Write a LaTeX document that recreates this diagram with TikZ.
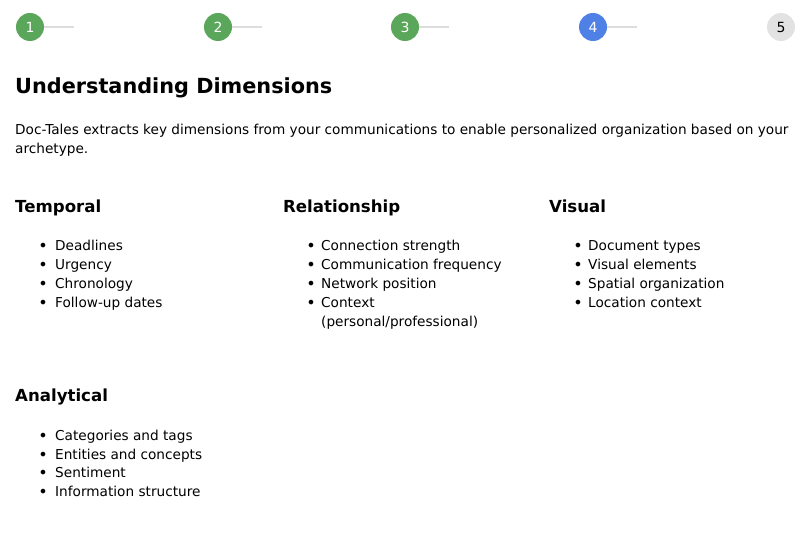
\documentclass[tikz,border=0pt]{standalone}
\usepackage{fontspec}
\setmainfont{DejaVu Sans}
\usepackage{tikz}
\usetikzlibrary{positioning}
\definecolor{donegreen}{HTML}{5AA65A}
\definecolor{activeblue}{HTML}{4F80E6}
\definecolor{todogray}{HTML}{E2E2E2}
\definecolor{linkgray}{HTML}{DDDDDD}

\begin{document}
\begin{tikzpicture}[x=1pt, y=-1pt,
    stepdot/.style={circle, minimum size=28pt, inner sep=0pt, font=\fontsize{14}{14}\selectfont},
    steplink/.style={draw=linkgray, line width=2pt},
    pagetitle/.style={anchor=base west, inner sep=0pt, font=\fontsize{20.8}{20.8}\selectfont\bfseries},
    dimhead/.style={anchor=base west, inner sep=0pt, font=\fontsize{16.6}{16.6}\selectfont\bfseries},
    bodytext/.style={anchor=base west, inner sep=0pt, font=\fontsize{13.65}{13.65}\selectfont},
    bulletmark/.style={anchor=base, inner sep=0pt, yshift=-1pt, font=\fontsize{16}{16}\selectfont}]
    \useasboundingbox (0,0) rectangle (806,533);

    % progress steps
    \node[stepdot, fill=donegreen, text=white] (s1) at (30,27) {1};
    \node[stepdot, fill=donegreen, text=white] (s2) at (218,27) {2};
    \node[stepdot, fill=donegreen, text=white] (s3) at (405,27) {3};
    \node[stepdot, fill=activeblue, text=white] (s4) at (593,27) {4};
    \node[stepdot, fill=todogray, text=black] (s5) at (781,27) {5};
    \coordinate (l1) at (74,27);
    \coordinate (l2) at (262,27);
    \coordinate (l3) at (449,27);
    \coordinate (l4) at (637,27);
    \draw[steplink] (s1) -- (l1);
    \draw[steplink] (s2) -- (l2);
    \draw[steplink] (s3) -- (l3);
    \draw[steplink] (s4) -- (l4);

    % title and intro
    \node[pagetitle] (title) at (15,93) {Understanding Dimensions};
    \node[bodytext] (intro1) at (15,134) {Doc-Tales extracts key dimensions from your communications to enable personalized organization based on your};
    \node[bodytext] (intro2) at (15,153) {archetype.};

    % temporal
    \node[dimhead] (temporal) at (15,212) {Temporal};
    \node[bulletmark] (tb1) at (43,250) {•};
    \node[bodytext] (t1) at (55,250) {Deadlines};
    \node[bulletmark] (tb2) at (43,269) {•};
    \node[bodytext] (t2) at (55,269) {Urgency};
    \node[bulletmark] (tb3) at (43,288) {•};
    \node[bodytext] (t3) at (55,288) {Chronology};
    \node[bulletmark] (tb4) at (43,307) {•};
    \node[bodytext] (t4) at (55,307) {Follow-up dates};

    % relationship
    \node[dimhead] (relationship) at (283,212) {Relationship};
    \node[bulletmark] (rb1) at (311,250) {•};
    \node[bodytext] (r1) at (321,250) {Connection strength};
    \node[bulletmark] (rb2) at (311,269) {•};
    \node[bodytext] (r2) at (321,269) {Communication frequency};
    \node[bulletmark] (rb3) at (311,288) {•};
    \node[bodytext] (r3) at (321,288) {Network position};
    \node[bulletmark] (rb4) at (311,307) {•};
    \node[bodytext] (r4) at (321,307) {Context};
    \node[bodytext] (r4b) at (321,326) {(personal/professional)};

    % visual
    \node[dimhead] (visual) at (549,212) {Visual};
    \node[bulletmark] (vb1) at (578,250) {•};
    \node[bodytext] (v1) at (588,250) {Document types};
    \node[bulletmark] (vb2) at (578,269) {•};
    \node[bodytext] (v2) at (588,269) {Visual elements};
    \node[bulletmark] (vb3) at (578,288) {•};
    \node[bodytext] (v3) at (588,288) {Spatial organization};
    \node[bulletmark] (vb4) at (578,307) {•};
    \node[bodytext] (v4) at (588,307) {Location context};

    % analytical
    \node[dimhead] (analytical) at (15,401) {Analytical};
    \node[bulletmark] (ab1) at (43,440) {•};
    \node[bodytext] (a1) at (55,440) {Categories and tags};
    \node[bulletmark] (ab2) at (43,459) {•};
    \node[bodytext] (a2) at (55,459) {Entities and concepts};
    \node[bulletmark] (ab3) at (43,477) {•};
    \node[bodytext] (a3) at (55,477) {Sentiment};
    \node[bulletmark] (ab4) at (43,496) {•};
    \node[bodytext] (a4) at (55,496) {Information structure};
\end{tikzpicture}
\end{document}
